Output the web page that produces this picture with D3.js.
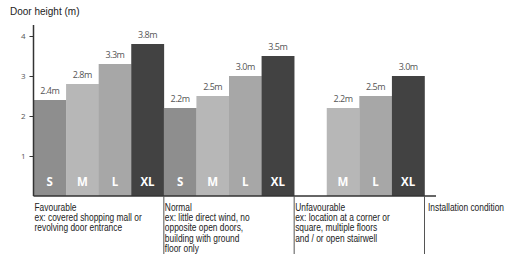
<!DOCTYPE html>
<html>
<head>
<meta charset="utf-8">
<script src="https://cdn.jsdelivr.net/npm/d3@7"></script>
<style>
  body { margin: 0; background: #fff; }
  svg { display: block; }
</style>
</head>
<body>
<svg id="chart" width="505" height="257"></svg>
<script>
const groups = ["Favourable", "Normal", "Unfavourable"];
const sizes = ["S", "M", "L", "XL"];
const favourable = [2.4, 2.8, 3.3, 3.8];
const normal = [2.2, 2.5, 3.0, 3.5];
const unfavourable = [null, 2.2, 2.5, 3.0];
const descriptions = [
    ["Favourable", "ex: covered shopping mall or", "revolving door entrance"],
    ["Normal", "ex: little direct wind, no", "opposite open doors,", "building with ground", "floor only"],
    ["Unfavourable", "ex: location at a corner or", "square, multiple floors", "and / or open stairwell"]
];
const yTicks = [1, 2, 3, 4];
const COLORS = {S: "#8e8e8e", M: "#b7b7b7", L: "#a7a7a7", XL: "#424242"};

const values = [favourable, normal, unfavourable];

const svg = d3.select("#chart");
const left = 33.5, right = 424.5, base = 196;
const SQUEEZE = 0.84;

const x0 = d3.scaleBand().domain(groups).range([left, right]);
const x1 = d3.scaleBand().domain(sizes).range([0, x0.bandwidth()]);
const y = d3.scaleLinear().domain([0, 4]).range([base, 36]);

// bars
const bars = [];
groups.forEach((g, gi) => {
    sizes.forEach((s, si) => {
        if (values[gi][si] != null) bars.push({group: g, size: s, value: values[gi][si]});
    });
});

const bar = svg.selectAll(".bar")
    .data(bars)
    .enter().append("g")
    .attr("transform", d => `translate(${x0(d.group) + x1(d.size)},0)`);

bar.append("rect")
    .attr("x", 0)
    .attr("y", d => y(d.value))
    .attr("width", x1.bandwidth() + 0.3)
    .attr("height", d => base - y(d.value))
    .attr("fill", d => COLORS[d.size]);

bar.append("text")
    .attr("x", x1.bandwidth() / 2)
    .attr("y", d => y(d.value) - 6)
    .attr("text-anchor", "middle")
    .attr("font-family", "'Open Sans', sans-serif")
    .attr("font-size", 9)
    .attr("letter-spacing", -0.5)
    .attr("fill", "#555")
    .text(d => d.value.toFixed(1) + "m");

bar.append("text")
    .attr("x", x1.bandwidth() / 2)
    .attr("y", base - 10)
    .attr("text-anchor", "middle")
    .attr("font-family", "'Open Sans', sans-serif")
    .attr("font-weight", "bold")
    .attr("font-size", 11.5)
    .attr("fill", "#fff")
    .text(d => d.size);

// y axis
const yAxis = d3.axisLeft(y).tickValues(yTicks).tickFormat(d3.format("d")).tickSize(4).tickPadding(4);
const ya = svg.append("g")
    .attr("transform", `translate(${left},0)`)
    .call(yAxis);
ya.select(".domain").remove();
ya.selectAll(".tick line").attr("stroke", "#333");
ya.selectAll(".tick text")
    .attr("font-family", "'Open Sans', sans-serif")
    .attr("font-size", 8)
    .attr("fill", "#555");

svg.append("line")
    .attr("x1", left).attr("x2", left)
    .attr("y1", 25).attr("y2", base)
    .attr("stroke", "#333").attr("stroke-width", 1.5);

svg.append("line")
    .attr("x1", left).attr("x2", 436)
    .attr("y1", base).attr("y2", base)
    .attr("stroke", "#333").attr("stroke-width", 1.5);

// group separators
groups.forEach(g => {
    svg.append("line")
        .attr("x1", x0(g) + x0.bandwidth()).attr("x2", x0(g) + x0.bandwidth())
        .attr("y1", base).attr("y2", 254)
        .attr("stroke", "#555").attr("stroke-width", 1);
});

// descriptions (squeezed horizontally to mimic a narrow face)
descriptions.forEach((lines, gi) => {
    const gx = x0(groups[gi]) + 1;
    const t = svg.append("text")
        .attr("transform", `translate(${gx},210.5) scale(${SQUEEZE},1)`)
        .attr("font-family", "'Liberation Sans', Arial, sans-serif")
        .attr("font-size", 10)
        .attr("fill", "#222");
    lines.forEach((l, i) => {
        t.append("tspan")
            .attr("x", 0)
            .attr("dy", i === 0 ? 0 : 10.5)
            .text(l);
    });
});

svg.append("text")
    .attr("transform", `translate(428,210.5) scale(${SQUEEZE},1)`)
    .attr("font-family", "'Liberation Sans', Arial, sans-serif")
    .attr("font-size", 10)
    .attr("fill", "#222")
    .text("Installation condition");

svg.append("text")
    .attr("x", 10).attr("y", 15)
    .attr("font-family", "'Liberation Sans', Arial, sans-serif")
    .attr("font-size", 10)
    .attr("fill", "#222")
    .text("Door height (m)");
</script>
</body>
</html>
